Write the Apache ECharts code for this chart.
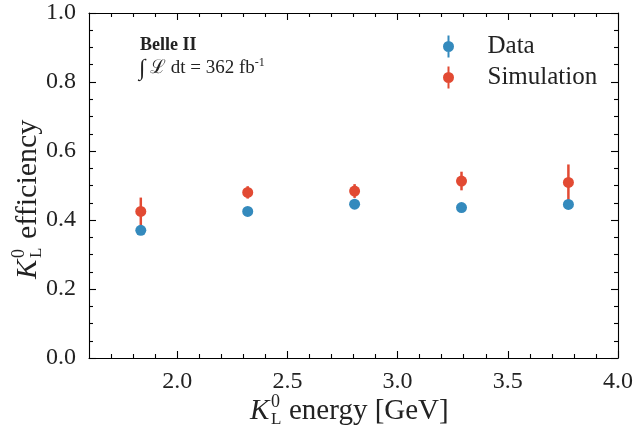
<!DOCTYPE html>
<html>
<head>
<meta charset="utf-8">
<script src="https://cdn.jsdelivr.net/npm/echarts@6/dist/echarts.min.js"></script>
<style>html,body{margin:0;padding:0;background:#fff}#c{width:639px;height:438px}</style>
</head>
<body>
<div id="c"></div>
<script>
// ---- data ----
const energy = [1.835, 2.32, 2.805, 3.29, 3.775];
const dataEff = [0.370, 0.425, 0.446, 0.436, 0.445];
const dataErr = [0.006, 0.006, 0.006, 0.006, 0.007];
const simEff = [0.425, 0.480, 0.484, 0.513, 0.509];
const simErr = [0.040, 0.018, 0.020, 0.027, 0.052];
const xMajor = [2.0, 2.5, 3.0, 3.5, 4.0];
const xMinor = [1.7, 1.8, 1.9, 2.1, 2.2, 2.3, 2.4, 2.6, 2.7, 2.8, 2.9, 3.1, 3.2, 3.3, 3.4, 3.6, 3.7, 3.8, 3.9];
const seriesNames = ['Data', 'Simulation'];

const BLUE = '#348ABD', RED = '#E24A33';
const FONT = '"Liberation Serif", "DejaVu Serif", serif';
const chart = echarts.init(document.getElementById('c'), null, {renderer: 'canvas'});

function errBars(vals, errs) {
  return energy.map((e, i) => [e, vals[i] - errs[i], vals[i] + errs[i]]);
}
function errRender(color) {
  return function (params, api) {
    const p1 = api.coord([api.value(0), api.value(1)]);
    const p2 = api.coord([api.value(0), api.value(2)]);
    return {type: 'line', shape: {x1: p1[0], y1: p1[1], x2: p2[0], y2: p2[1]},
      style: {stroke: color, lineWidth: 2.5}};
  };
}
const iconPath = 'path://M5,0 L5,22 L7,22 L7,0 Z M0.5,11 A5.5,5.5 0 1 0 11.5,11 A5.5,5.5 0 1 0 0.5,11 Z';
const lineStyle = {color: '#000', width: 1.1};

function xAx(pos, ticks, len, showLine, showLabel) {
  return {
    type: 'value', position: pos, min: 1.6, max: 4.0,
    axisLine: {show: showLine, onZero: false, lineStyle},
    axisTick: {show: true, inside: true, length: len, customValues: ticks, lineStyle},
    axisLabel: {show: showLabel, customValues: ticks, margin: 12, color: '#222',
      fontFamily: FONT, fontSize: 24, formatter: v => v.toFixed(1)},
    splitLine: {show: false}
  };
}
function yAx(pos, showLabel) {
  return {
    type: 'value', position: pos, min: 0, max: 1, interval: 0.2,
    axisLine: {show: true, onZero: false, lineStyle},
    axisTick: {show: true, inside: true, length: 7, lineStyle},
    minorTick: {show: true, splitNumber: 4, length: 4, lineStyle},
    axisLabel: {show: showLabel, margin: 13, color: '#222', fontFamily: FONT, fontSize: 24,
      formatter: v => v.toFixed(1)},
    splitLine: {show: false}
  };
}

const tStyle = (txt, size, x, y, italic) => ({type: 'text', x: x, y: y,
  style: {text: txt, fill: '#222', font: (italic ? 'italic ' : '') + size + 'px ' + FONT,
    align: 'left', verticalAlign: 'middle'}});

chart.setOption({
  animation: false,
  backgroundColor: '#fff',
  grid: {left: 89, right: 21, top: 13, bottom: 80},
  xAxis: [
    xAx('bottom', xMajor, 7, true, true),
    xAx('bottom', xMinor, 4, false, false),
    xAx('top', xMajor, 7, true, false),
    xAx('top', xMinor, 4, false, false)
  ],
  yAxis: [yAx('left', true), yAx('right', false)],
  legend: {
    orient: 'vertical', left: 438, top: 29, itemGap: 6, itemWidth: 12, itemHeight: 22,
    data: [
      {name: seriesNames[0], icon: iconPath, itemStyle: {color: BLUE}},
      {name: seriesNames[1], icon: iconPath, itemStyle: {color: RED}}
    ],
    textStyle: {fontFamily: FONT, fontSize: 25, color: '#222', padding: [0, 0, 0, 28]}
  },
  series: [
    {name: seriesNames[0], type: 'custom', renderItem: errRender(BLUE), z: 2,
      encode: {x: 0, y: [1, 2]}, data: errBars(dataEff, dataErr)},
    {name: seriesNames[1], type: 'custom', renderItem: errRender(RED), z: 2,
      encode: {x: 0, y: [1, 2]}, data: errBars(simEff, simErr)},
    {name: seriesNames[0], type: 'scatter', symbol: 'circle', symbolSize: 11, z: 3,
      itemStyle: {color: BLUE, opacity: 1}, data: energy.map((e, i) => [e, dataEff[i]])},
    {name: seriesNames[1], type: 'scatter', symbol: 'circle', symbolSize: 11, z: 3,
      itemStyle: {color: RED, opacity: 1}, data: energy.map((e, i) => [e, simEff[i]])}
  ],
  graphic: [
    {type: 'text', left: 140, top: 36, style: {text: 'Belle II', fill: '#222',
      font: 'bold 18px ' + FONT}},
    {type: 'text', left: 139, top: 57, style: {
      text: '{i|∫}{n| ℒ dt = 362 fb}{s|-1}', fill: '#222',
      rich: {
        i: {fontFamily: FONT, fontSize: 23, fill: '#222'},
        n: {fontFamily: FONT, fontSize: 19, fill: '#222'},
        s: {fontFamily: FONT, fontSize: 12, fill: '#222', verticalAlign: 'top', padding: [0, 0, 8, 0]}
      }}},
    {type: 'group', x: 250, y: 411, children: [
      tStyle('K', 29, 0, 0, true),
      tStyle('0', 18, 21, -9, false),
      tStyle('L', 17, 21, 9, false),
      tStyle('energy [GeV]', 29, 39, 0, false)
    ]},
    {type: 'group', x: 28, y: 279, rotation: Math.PI / 2, children: [
      tStyle('K', 29, 0, 0, true),
      tStyle('0', 18, 21, -9, false),
      tStyle('L', 17, 21, 9, false),
      tStyle('efficiency', 30, 40, 0, false)
    ]}
  ]
});
</script>
</body>
</html>
